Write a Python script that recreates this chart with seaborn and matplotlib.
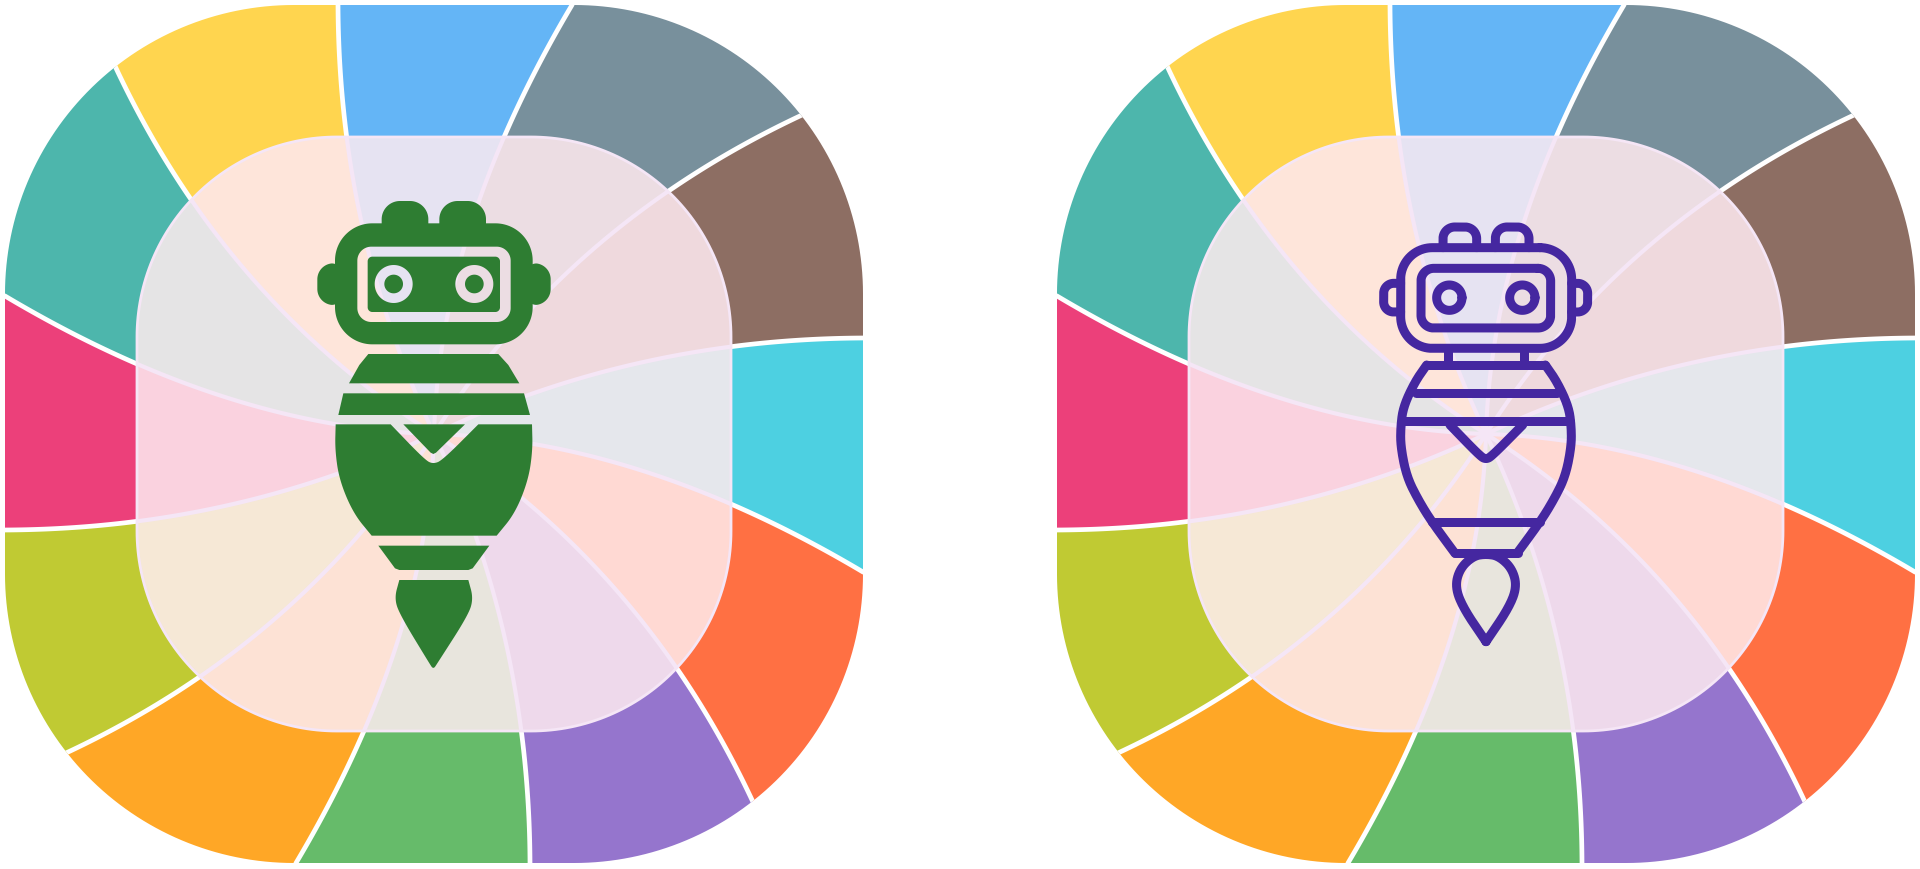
import numpy as np
import matplotlib as mpl
mpl.use('Agg')
import matplotlib.pyplot as plt
import seaborn as sns
from matplotlib.path import Path
from matplotlib.patches import PathPatch

# wheel colours, clockwise from the blue top sector
outer_colors = ['#64B5F6', '#78909C', '#8D6E63', '#4DD0E1', '#FF7043', '#9575CD',
                '#66BB6A', '#FFA726', '#C0CA33', '#EC407A', '#4DB6AC', '#FFD54F']
inner_colors = ['#E6E3F2', '#ECDDE3', '#EFD9DD', '#E5E7EC', '#FFD9D3', '#EED9EB',
                '#E8E5DD', '#FDE2D5', '#F6E8D6', '#FAD2DF', '#E5E4E5', '#FEE5DA']

# the 3 divider curves of one quadrant: bezier control and rim point, px from wheel centre
curve_a = [(-95, -200), (-96, -429)]
curve_b = [(6, -207), (138, -429)]
curve_c = [(133, -209), (368, -319)]

centers = [434, 1486]
center_y = 434
outer_half, outer_radius = 429, 289
inner_half, inner_radius = 297, 200

green = '#2E7D32'
indigo = '#4527A0'
divider_inner = '#F5E6F6'

# solid robot, in crop coordinates (px = 300 + x/3, 180 + y/3)
solid_seg1 = [(205, 522), (595, 522), (625, 555), (658, 610), (147, 610), (178, 555)]
solid_seg2 = [(130, 640), (672, 640), (690, 705), (115, 705)]
belly_left = [(107, 733), (105, 810), (118, 900), (160, 1000), (215, 1067)]
belly_right = [(590, 1067), (645, 1000), (685, 900), (698, 810), (696, 733)]
belly_notch = [(535, 733), (428, 840), (400, 852), (375, 840), (272, 733)]
solid_tri = [(310, 733), (495, 733), (408, 818), (400, 822), (392, 818)]
solid_seg4 = [(235, 1097), (568, 1097), (518, 1165), (505, 1170), (298, 1170), (285, 1165)]
flame_top = [(298, 1200), (505, 1200)]
flame_side = [(505, 1200), (520, 1255), (505, 1305), (412, 1450), (400, 1468),
              (388, 1450), (300, 1305), (283, 1255), (298, 1200)]

# outline robot, in crop coordinates (px = 1360 + x/3, 200 + y/3)
body_side = [(200, 495), (165, 545), (130, 620), (122, 680), (122, 740), (140, 830),
             (175, 900), (215, 965), (285, 1060)]
line_rows = [(578, 168, 590), (663, 125, 630), (967, 215, 540), (1060, 285, 475), (495, 200, 555)]
line_vee = [(270, 675), (360, 768), (378, 778), (396, 768), (488, 675)]
line_flame = [(378, 1325), (310, 1225), (285, 1160), (300, 1105), (340, 1068), (378, 1062),
              (416, 1068), (456, 1105), (471, 1160), (446, 1225), (378, 1325)]


def rounded_rect(x0, y0, x1, y1, r):
    # four arcs of 64 points: top right, bottom right, bottom left, top left
    pts = []
    for cx, cy, a0 in [(x1 - r, y0 + r, -90), (x1 - r, y1 - r, 0), (x0 + r, y1 - r, 90), (x0 + r, y0 + r, 180)]:
        ang = np.radians(np.linspace(a0, a0 + 90, 64))
        pts.append(np.column_stack([cx + r * np.cos(ang), cy + r * np.sin(ang)]))
    return np.vstack(pts)


def circle(cx, cy, r):
    ang = np.radians(np.linspace(0, 360, 120, endpoint=False))
    return np.column_stack([cx + r * np.cos(ang), cy + r * np.sin(ang)])


def closed(pts):
    pts = np.asarray(pts, dtype=float)
    return Path(np.vstack([pts, pts[:1]]), closed=True)


def chaikin(pts, n=2):
    pts = np.asarray(pts, dtype=float)
    for _ in range(n):
        cur, nxt = pts[:-1], pts[1:]
        new = np.empty((len(cur) * 2, 2))
        new[0::2] = 0.75 * cur + 0.25 * nxt
        new[1::2] = 0.25 * cur + 0.75 * nxt
        pts = np.vstack([pts[:1], new, pts[-1:]])
    return pts


def divider(curve, quarter):
    ctrl, rim = np.asarray(curve, dtype=float)
    t = np.linspace(0, 1, 80)[:, None]
    pts = 2 * t * (1 - t) * ctrl + t ** 2 * rim
    xs, ys = pts[:, 0], pts[:, 1]
    for _ in range(quarter):
        xs, ys = -ys, xs
    return np.column_stack([xs, ys])


def draw_wheel(ax, cx):
    outer_clip = closed(rounded_rect(cx - outer_half, center_y - outer_half, cx + outer_half, center_y + outer_half, outer_radius))
    inner_clip = closed(rounded_rect(cx - inner_half, center_y - inner_half, cx + inner_half, center_y + inner_half, inner_radius))
    curves = [divider(c, q) for q in range(4) for c in (curve_a, curve_b, curve_c)]
    curves = [np.vstack([c, c[-1] * 2]) + [cx, center_y] for c in curves]

    z = 1
    for colors, clip in [(outer_colors, outer_clip), (inner_colors, inner_clip)]:
        for i, col in enumerate(colors):
            poly = np.vstack([curves[i], curves[(i + 1) % 12][::-1]])
            for art in ax.fill(poly[:, 0], poly[:, 1], color=col, lw=0, zorder=z):
                art.set_clip_path(clip, ax.transData)
        line_col, lw = ('white', 3.4) if clip is outer_clip else (divider_inner, 3.0)
        for c in curves:
            sns.lineplot(x=c[:, 0], y=c[:, 1], sort=False, estimator=None, color=line_col, linewidth=lw, ax=ax, zorder=z + 1)
            ax.lines[-1].set_clip_path(clip, ax.transData)
        z += 2
    ax.add_patch(PathPatch(inner_clip, fc='none', ec=divider_inner, lw=2.0, zorder=z))


def draw_solid(ax):
    def conv(pts):
        return np.asarray(pts, dtype=float) / 3 + [300, 180]

    def add(*parts):
        ax.add_patch(PathPatch(Path.make_compound_path(*parts), fc=green, ec='none', lw=0, zorder=8))

    # head with the visor ring cut out, holes run the other way round
    add(closed(conv(rounded_rect(105, 130, 698, 493, 112))),
        closed(conv(rounded_rect(172, 200, 632, 426, 42))[::-1]))
    add(closed(conv(rounded_rect(203, 230, 600, 396, 14))),
        closed(conv(circle(281, 312, 57))[::-1]), closed(conv(circle(523, 312, 57))[::-1]))
    add(closed(conv(circle(281, 312, 28))))
    add(closed(conv(circle(523, 312, 28))))
    # horns and ears
    add(closed(conv(rounded_rect(245, 63, 385, 190, 55))))
    add(closed(conv(rounded_rect(418, 63, 558, 190, 55))))
    add(closed(conv(rounded_rect(52, 250, 140, 375, 48))))
    add(closed(conv(rounded_rect(665, 250, 752, 375, 48))))
    # body
    add(closed(conv(solid_seg1)))
    add(closed(conv(solid_seg2)))
    add(closed(conv(np.vstack([chaikin(belly_left, 4), chaikin(belly_right, 4), chaikin(belly_notch, 3)]))))
    add(closed(conv(solid_tri)))
    add(closed(conv(solid_seg4)))
    add(closed(conv(np.vstack([chaikin(flame_side, 4), flame_top]))))


def draw_outline(ax):
    def conv(pts):
        return np.asarray(pts, dtype=float) / 3 + [1360, 200]

    lw = 9 * 0.72

    def stroke(pts):
        p = conv(pts)
        sns.lineplot(x=p[:, 0], y=p[:, 1], sort=False, estimator=None, color=indigo, linewidth=lw, ax=ax, zorder=8)
        ax.lines[-1].set_solid_capstyle('round')
        ax.lines[-1].set_solid_joinstyle('round')

    def loop(pts):
        stroke(np.vstack([pts, np.asarray(pts)[:1]]))

    loop(rounded_rect(122, 143, 635, 445, 95))
    loop(rounded_rect(183, 205, 572, 384, 38))
    loop(circle(268, 293, 38))
    loop(circle(487, 293, 38))
    # horns and ears are open at the head side
    for x0, x1 in [(249, 350), (406, 507)]:
        box = rounded_rect(x0, 81, x1, 300, 35)
        stroke(np.vstack([[(x0, 143)], box[192:256], box[:64], [(x1, 143)]]))
    box = rounded_rect(71, 250, 170, 336, 30)
    stroke(np.vstack([[(122, 336)], box[128:192], box[192:256], [(122, 250)]]))
    box = rounded_rect(585, 250, 683, 336, 30)
    stroke(np.vstack([[(635, 250)], box[:64], box[64:128], [(635, 336)]]))
    # neck
    stroke([(265, 445), (265, 495)])
    stroke([(491, 445), (491, 495)])
    # body
    side = chaikin(body_side, 4)
    stroke(side)
    stroke(np.column_stack([756 - side[:, 0], side[:, 1]]))
    for y, x0, x1 in line_rows:
        stroke([(x0, y), (x1, y)])
    stroke(chaikin(line_vee, 3))
    stroke(chaikin(line_flame, 4))


sns.set_theme(style='white')
fig = plt.figure(figsize=(19.2, 8.69), dpi=100)
ax = fig.add_axes([0, 0, 1, 1])
for cx in centers:
    draw_wheel(ax, cx)
draw_solid(ax)
draw_outline(ax)
ax.set_xlim(0, 1920)
ax.set_ylim(869, 0)
ax.axis('off')
plt.savefig('out.png', dpi=100, facecolor='white')
